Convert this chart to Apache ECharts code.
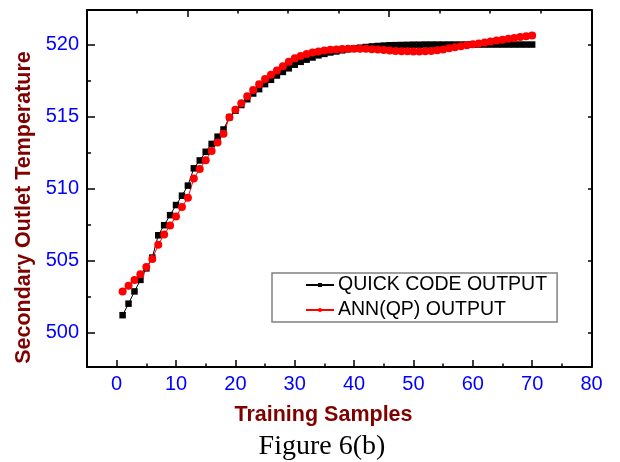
<!DOCTYPE html>
<html>
<head>
<meta charset="utf-8">
<script src="https://cdn.jsdelivr.net/npm/echarts@6/dist/echarts.min.js"></script>
<style>html,body{margin:0;padding:0;background:#fff;}#c{width:620px;height:462px;}</style>
</head>
<body>
<div id="c"></div>
<script>
const samples = [1,2,3,4,5,6,7,8,9,10,11,12,13,14,15,16,17,18,19,20,21,22,23,24,25,26,27,28,29,30,31,32,33,34,35,36,37,38,39,40,41,42,43,44,45,46,47,48,49,50,51,52,53,54,55,56,57,58,59,60,61,62,63,64,65,66,67,68,69,70];
const quickCode = [501.2,502.0,502.85,503.65,504.45,505.2,506.75,507.45,508.15,508.85,509.5,510.2,511.4,511.95,512.55,513.1,513.6,514.1,514.95,515.4,515.8,516.2,516.6,516.9,517.25,517.55,517.85,518.1,518.35,518.6,518.8,518.95,519.1,519.25,519.35,519.45,519.52,519.6,519.67,519.73,519.78,519.83,519.87,519.9,519.93,519.95,519.96,519.97,519.98,519.99,519.99,520.0,520.0,520.0,520.0,520.0,520.0,520.0,520.0,520.0,520.0,520.0,520.0,520.0,520.0,520.0,520.0,520.0,520.0,520.0];
const annQP = [502.85,503.25,503.65,504.05,504.55,505.1,506.1,506.8,507.43,508.06,508.72,509.35,510.7,511.35,511.97,512.6,513.2,513.8,514.95,515.47,515.92,516.4,516.85,517.24,517.6,517.9,518.2,518.5,518.8,519.05,519.2,519.35,519.45,519.52,519.58,519.63,519.66,519.69,519.7,519.71,519.71,519.7,519.68,519.65,519.62,519.59,519.56,519.54,519.53,519.52,519.52,519.53,519.55,519.6,519.65,519.75,519.82,519.88,519.95,520.02,520.08,520.15,520.22,520.28,520.33,520.4,520.46,520.52,520.57,520.62];
const xMajorTicks = [0,10,20,30,40,50,60,70,80];
const xMinorTicks = [5,15,25,35,45,55,65,75];
const topMajorTicks = [11.9,45.9];
const topMinorTicks = [3.4,20.4,28.9,37.4,54.4,62.9,71.4];
const yMajorTicks = [500,505,510,515,520];
const yMinorTicks = [502.5,507.5,512.5,517.5];
const seriesNames = ['QUICK CODE OUTPUT','ANN(QP) OUTPUT'];

const FONT = "'Liberation Sans', Arial, sans-serif";
const X_MIN = -5, X_MAX = 80, Y_MIN = 497.6, Y_MAX = 522.4;

function xa(opts){
  const o = Object.assign({type:'value', min:X_MIN, max:X_MAX, gridIndex:0, splitLine:{show:false}}, opts);
  o.axisLine = Object.assign({onZero:false}, o.axisLine || {});
  return o;
}
function ya(opts){
  const o = Object.assign({type:'value', min:Y_MIN, max:Y_MAX, gridIndex:0, splitLine:{show:false}}, opts);
  o.axisLine = Object.assign({onZero:false}, o.axisLine || {});
  return o;
}

const chart = echarts.init(document.getElementById('c'), null, {renderer:'canvas'});
chart.setOption({
  backgroundColor:'#ffffff',
  animation:false,
  grid:{left:87, right:28.5, top:10, bottom:95, containLabel:false},
  xAxis:[
    xa({position:'bottom', axisLine:{show:true, lineStyle:{color:'#000', width:2}},
        axisTick:{show:true, inside:true, length:7, lineStyle:{color:'#000', width:1.5}, customValues:xMajorTicks},
        axisLabel:{show:true, customValues:xMajorTicks, color:'#0000ff', fontSize:20, fontFamily:FONT, margin:7}}),
    xa({position:'bottom', axisLine:{show:false},
        axisTick:{show:true, inside:true, length:3.5, lineStyle:{color:'#000', width:1.5}, customValues:xMinorTicks},
        axisLabel:{show:false}}),
    xa({position:'top', axisLine:{show:true, lineStyle:{color:'#000', width:2}},
        axisTick:{show:true, inside:true, length:7, lineStyle:{color:'#000', width:1.5}, customValues:topMajorTicks},
        axisLabel:{show:false}}),
    xa({position:'top', axisLine:{show:false},
        axisTick:{show:true, inside:true, length:3.5, lineStyle:{color:'#000', width:1.5}, customValues:topMinorTicks},
        axisLabel:{show:false}})
  ],
  yAxis:[
    ya({position:'left', axisLine:{show:true, lineStyle:{color:'#000', width:2}},
        axisTick:{show:true, inside:true, length:8, lineStyle:{color:'#000', width:1.5}, customValues:yMajorTicks},
        axisLabel:{show:true, customValues:yMajorTicks, color:'#0000ff', fontSize:20, fontFamily:FONT, margin:8}}),
    ya({position:'left', axisLine:{show:false},
        axisTick:{show:true, inside:true, length:4, lineStyle:{color:'#000', width:1.5}, customValues:yMinorTicks},
        axisLabel:{show:false}}),
    ya({position:'right', axisLine:{show:true, lineStyle:{color:'#000', width:2}},
        axisTick:{show:true, inside:true, length:3.5, lineStyle:{color:'#000', width:1.5}, customValues:yMajorTicks},
        axisLabel:{show:false}})
  ],
  legend:{
    left:272, top:273, orient:'vertical',
    padding:[2,10,2,33], itemGap:5,
    itemWidth:28, itemHeight:5,
    borderColor:'#808080', borderWidth:1.5, backgroundColor:'#fff',
    textStyle:{color:'#000', fontSize:19.5, fontFamily:FONT, lineHeight:20, padding:[0,0,0,-1]},
    data:seriesNames
  },
  series:[
    {name:seriesNames[0], type:'line', xAxisIndex:0, yAxisIndex:0,
     data:samples.map((s,i)=>[s, quickCode[i]]),
     symbol:'rect', symbolSize:6.5, showSymbol:true,
     lineStyle:{color:'#000', width:1}, itemStyle:{color:'#000'}},
    {name:seriesNames[1], type:'line', xAxisIndex:0, yAxisIndex:0,
     data:samples.map((s,i)=>[s, annQP[i]]),
     symbol:'circle', symbolSize:8, showSymbol:true,
     lineStyle:{color:'#ff0000', width:1}, itemStyle:{color:'#ff0000'}}
  ],
  graphic:[
    {type:'text', x:24, y:207.5, rotation:Math.PI/2, style:{text:'Secondary Outlet Temperature', fill:'#800000', font:"bold 21.5px 'Liberation Sans', Arial, sans-serif", align:'center', verticalAlign:'middle'}},
    {type:'text', x:323.5, y:415.5, style:{text:'Training Samples', fill:'#800000', font:"bold 21.5px 'Liberation Sans', Arial, sans-serif", align:'center', verticalAlign:'middle'}},
    {type:'text', x:322, y:447, style:{text:'Figure 6(b)', fill:'#000', font:"28px 'Liberation Serif', 'Times New Roman', serif", align:'center', verticalAlign:'middle'}}
  ]
});
</script>
</body>
</html>
